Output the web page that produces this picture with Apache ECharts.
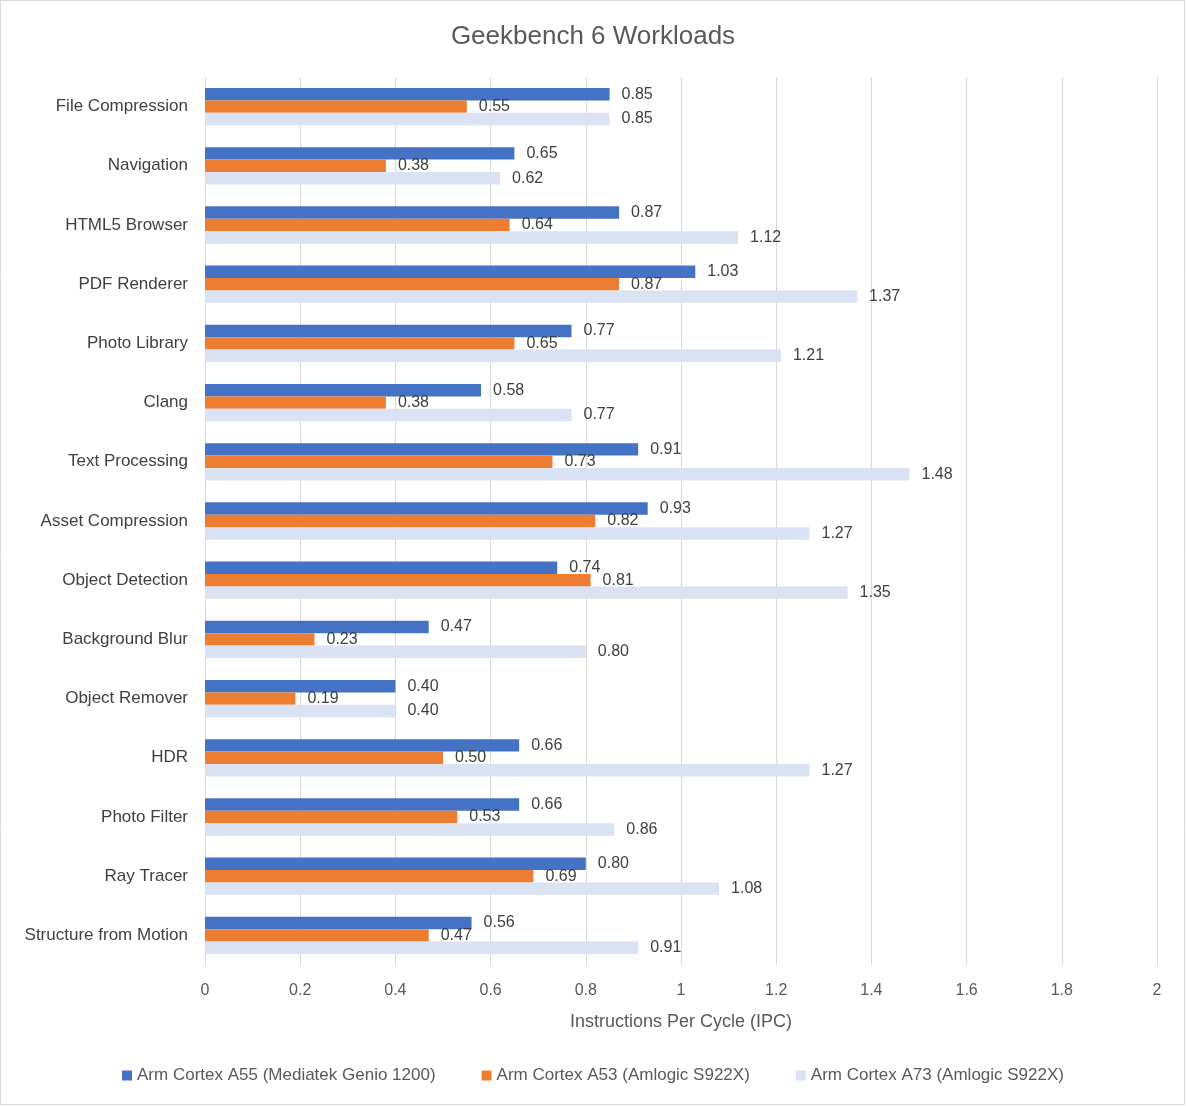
<!DOCTYPE html>
<html>
<head>
<meta charset="utf-8">
<title>Geekbench 6 Workloads</title>
<script src="https://cdn.jsdelivr.net/npm/echarts@6/dist/echarts.min.js"></script>
<style>
  html, body { margin: 0; padding: 0; background: #fff; }
  #chart { width: 1186px; height: 1106px; }
</style>
</head>
<body>
<div id="chart"></div>
<script>
// workloads, top to bottom
var workloads = [
  'File Compression', 'Navigation', 'HTML5 Browser', 'PDF Renderer', 'Photo Library',
  'Clang', 'Text Processing', 'Asset Compression', 'Object Detection', 'Background Blur',
  'Object Remover', 'HDR', 'Photo Filter', 'Ray Tracer', 'Structure from Motion'
];

var seriesNames = [
  'Arm Cortex A55 (Mediatek Genio 1200)',
  'Arm Cortex A53 (Amlogic S922X)',
  'Arm Cortex A73 (Amlogic S922X)'
];

var ipcA55 = [0.85, 0.65, 0.87, 1.03, 0.77, 0.58, 0.91, 0.93, 0.74, 0.47, 0.40, 0.66, 0.66, 0.80, 0.56];
var ipcA53 = [0.55, 0.38, 0.64, 0.87, 0.65, 0.38, 0.73, 0.82, 0.81, 0.23, 0.19, 0.50, 0.53, 0.69, 0.47];
var ipcA73 = [0.85, 0.62, 1.12, 1.37, 1.21, 0.77, 1.48, 1.27, 1.35, 0.80, 0.40, 1.27, 0.86, 1.08, 0.91];

var colors = ['#4472C4', '#ED7D31', '#DAE3F3'];
var FONT = '"Liberation Sans", Arial, sans-serif';

function makeSeries(name, data, color){
  return {
    name: name,
    type: 'bar',
    data: data,
    barGap: '0%',
    barCategoryGap: '37%',
    itemStyle: { color: color },
    label: {
      show: true,
      position: 'right',
      distance: 12,
      color: '#404040',
      fontFamily: FONT,
      fontSize: 16,
      formatter: function(p){ return p.value.toFixed(2); }
    }
  };
}

var chart = echarts.init(document.getElementById('chart'));

chart.setOption({
  backgroundColor: '#fff',
  animation: false,
  title: {
    text: 'Geekbench 6 Workloads',
    left: 'center',
    top: 19,
    textStyle: { color: '#595959', fontFamily: FONT, fontSize: 26, fontWeight: 'normal' }
  },
  legend: {
    bottom: 17,
    left: 'center',
    itemWidth: 10,
    itemHeight: 10,
    itemGap: 46,
    icon: 'rect',
    textStyle: { color: '#595959', fontFamily: FONT, fontSize: 17 },
    data: seriesNames
  },
  grid: { left: 205, right: 29, top: 77, bottom: 141, containLabel: false },
  xAxis: {
    type: 'value',
    min: 0,
    max: 2,
    interval: 0.2,
    name: 'Instructions Per Cycle (IPC)',
    nameLocation: 'middle',
    nameGap: 48,
    nameTextStyle: { color: '#595959', fontFamily: FONT, fontSize: 18 },
    axisLine: { show: false },
    axisTick: { show: false },
    axisLabel: {
      color: '#595959', fontFamily: FONT, fontSize: 16, margin: 18,
      formatter: function(v){ return String(Math.round(v * 10) / 10); }
    },
    splitLine: { lineStyle: { color: '#D9D9D9', width: 1 } }
  },
  yAxis: {
    type: 'category',
    inverse: true,
    data: workloads,
    axisLine: { show: false },
    axisTick: { show: false },
    axisLabel: { color: '#404040', fontFamily: FONT, fontSize: 17, margin: 17 }
  },
  series: [
    makeSeries(seriesNames[0], ipcA55, colors[0]),
    makeSeries(seriesNames[1], ipcA53, colors[1]),
    makeSeries(seriesNames[2], ipcA73, colors[2])
  ],
  graphic: [{
    type: 'rect',
    shape: { x: 0.5, y: 0.5, width: 1184, height: 1104 },
    style: { fill: 'none', stroke: '#D9D9D9', lineWidth: 1 },
    silent: true
  }]
});
</script>
</body>
</html>
